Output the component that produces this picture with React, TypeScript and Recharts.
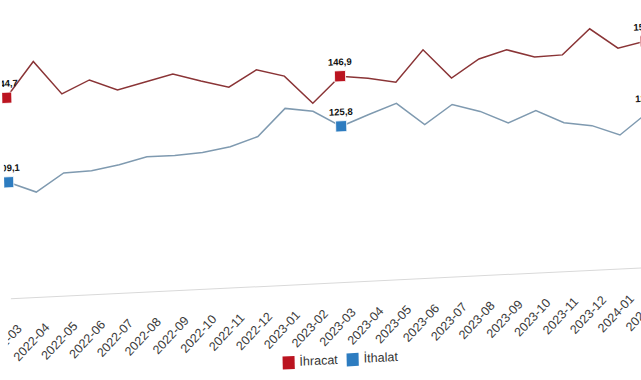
import React from 'react';
import { LineChart, Line, XAxis, YAxis } from 'recharts';

const months = [
  '2022-03', '2022-04', '2022-05', '2022-06', '2022-07', '2022-08', '2022-09', '2022-10',
  '2022-11', '2022-12', '2023-01', '2023-02', '2023-03', '2023-04', '2023-05', '2023-06',
  '2023-07', '2023-08', '2023-09', '2023-10', '2023-11', '2023-12', '2024-01', '2024-02',
];
const ihracat = [
  144.7, 159.4, 145.2, 150.5, 145.7, 148.5, 151.3, 147.8, 144.6, 151.3, 148.1, 136.1,
  146.9, 145.5, 143.2, 156.3, 143.8, 151.3, 154.6, 151.0, 151.3, 161.7, 153.0, 155.4,
];
const ithalat = [
  109.1, 104.4, 111.9, 112.2, 114.2, 117.0, 116.9, 117.6, 119.5, 123.2, 134.5, 132.7,
  125.8, 130.2, 134.3, 124.8, 132.7, 129.2, 123.8, 128.4, 122.7, 120.9, 116.4, 125.2,
];
// months that get a square marker and a value label
const markedMonths = ['2022-03', '2023-03', '2024-02'];
const seriesNames = { ihracat: 'İhracat', ithalat: 'İthalat' };

const data = months.map((month, i) => ({ month, ihracat: ihracat[i], ithalat: ithalat[i] }));

const FONT = "Arial, 'Liberation Sans', sans-serif";
const markColor: Record<string, string> = { ihracat: '#bb1420', ithalat: '#2d7cc0' };
const lineColor: Record<string, string> = { ihracat: '#8a3436', ithalat: '#7f9ab0' };

const fmt = (v: number) => v.toFixed(1).replace('.', ',');

// square marker + value label, only on the marked months
const markDot = (key: string) => (props: any) => {
  const { cx, cy, payload, index } = props;
  if (!payload || !markedMonths.includes(payload.month)) return <g key={`d-${key}-${index}`} />;
  return (
    <g key={`d-${key}-${index}`}>
      <rect x={cx - 5.5} y={cy - 5.5} width={11} height={11} fill={markColor[key]} stroke="#ffffff" strokeWidth={0.8} />
      <text x={cx} y={cy - 11} textAnchor="middle" fontSize={9.5} fontWeight="bold" fill="#111" fontFamily={FONT}>
        {fmt(payload[key])}
      </text>
    </g>
  );
};

const MonthTick = ({ x, y, payload }: any) => (
  <text
    transform={`translate(${x + 11},${y + 31}) rotate(-45)`}
    textAnchor="end"
    fontSize={12.5}
    fill="#3a3a3a"
    fontFamily={FONT}
  >
    {payload.value}
  </text>
);

// legend drawn as plain html under the plot
const LegendBox = () => (
  <div
    style={{
      position: 'absolute', left: 6, top: 364, width: 660, height: 24,
      display: 'flex', justifyContent: 'center', alignItems: 'center',
      fontFamily: FONT, fontSize: 12.5, color: '#333',
    }}
  >
    {(Object.keys(seriesNames) as (keyof typeof seriesNames)[]).map((k) => (
      <div key={k} style={{ display: 'flex', alignItems: 'center', marginRight: 9 }}>
        <span style={{ display: 'inline-block', width: 12, height: 13, background: markColor[k], marginRight: 5 }} />
        <span>{seriesNames[k]}</span>
      </div>
    ))}
  </div>
);

export default function App() {
  return (
    <div style={{ position: 'fixed', left: 0, top: 0, width: 641, height: 380, overflow: 'hidden', background: '#fff' }}>
      <div
        style={{
          position: 'relative', width: 660, height: 400,
          transform: 'matrix(1, -0.049, 0.023, 1, 0, 0)', transformOrigin: '0 0',
        }}
      >
        <LineChart width={660} height={392} data={data} margin={{ top: 0, right: 16, left: 4, bottom: 28 }}>
          <XAxis
            dataKey="month"
            interval={0}
            tickLine={false}
            tickSize={0}
            tickMargin={0}
            height={65}
            axisLine={{ stroke: '#d9d9d9' }}
            tick={<MonthTick />}
          />
          <YAxis domain={[60, 186]} width={0} tick={false} tickLine={false} axisLine={{ stroke: '#d9d9d9' }} />
          <Line
            dataKey="ihracat"
            name={seriesNames.ihracat}
            stroke={lineColor.ihracat}
            strokeWidth={1.5}
            dot={markDot('ihracat')}
            activeDot={false}
            isAnimationActive={false}
          />
          <Line
            dataKey="ithalat"
            name={seriesNames.ithalat}
            stroke={lineColor.ithalat}
            strokeWidth={1.5}
            dot={markDot('ithalat')}
            activeDot={false}
            isAnimationActive={false}
          />
        </LineChart>
        <LegendBox />
      </div>
    </div>
  );
}
